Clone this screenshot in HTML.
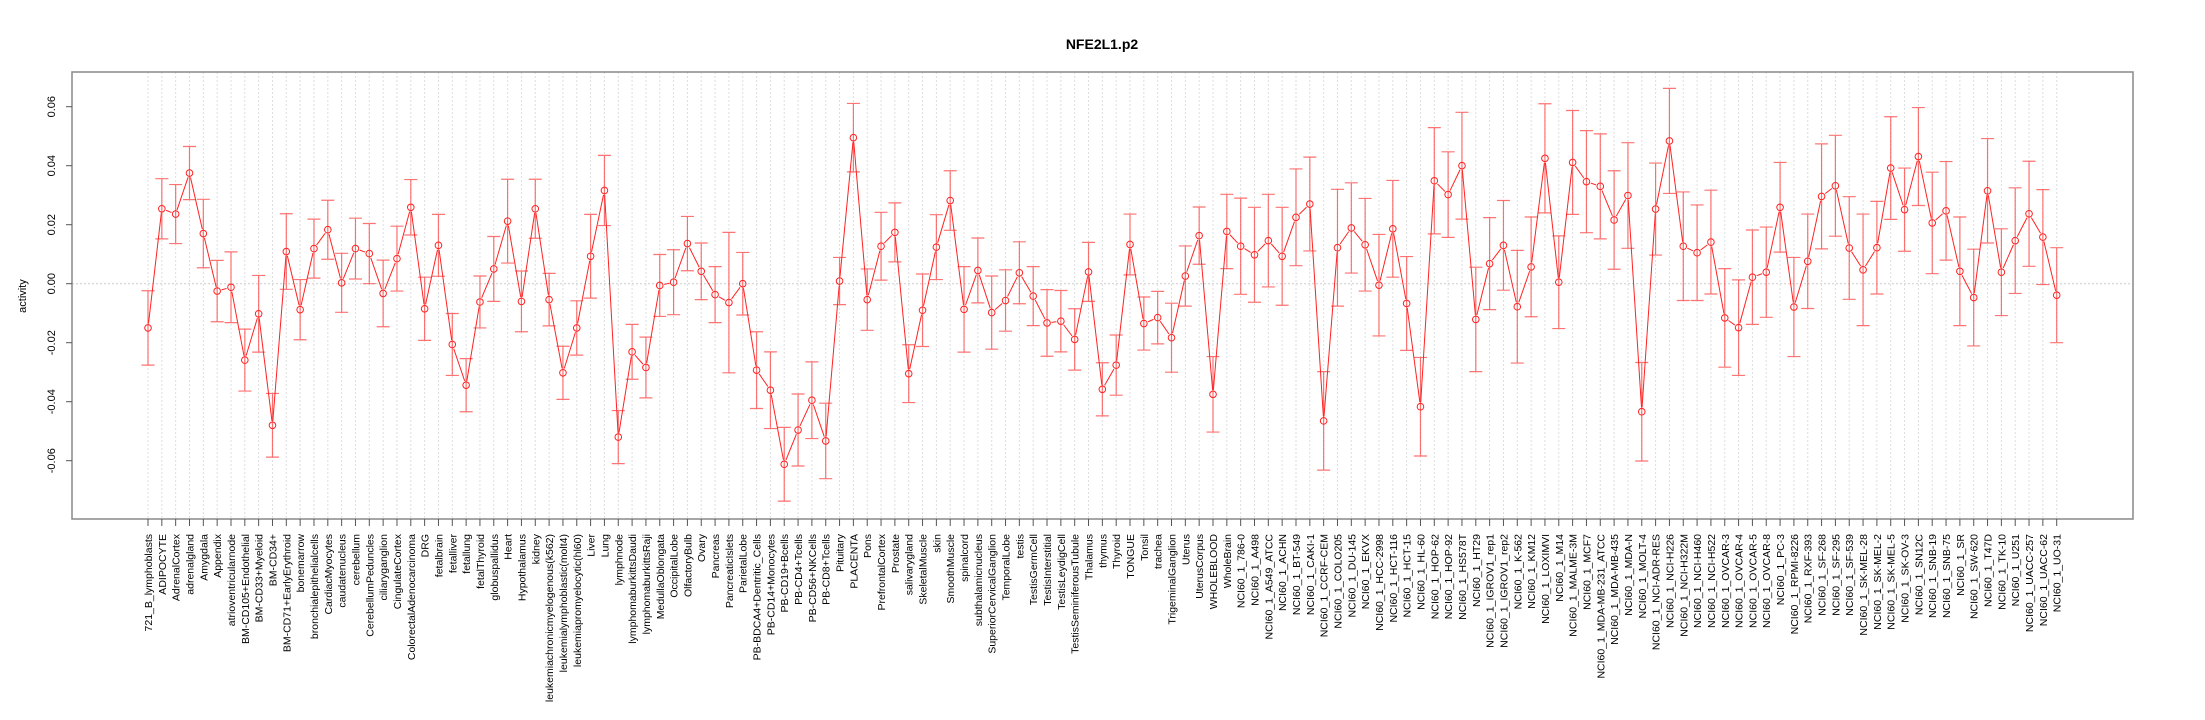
<!DOCTYPE html>
<html><head><meta charset="utf-8"><style>
html,body{margin:0;padding:0;background:#fff;}
svg{display:block;font-family:"Liberation Sans",sans-serif;}
</style></head><body>
<svg id="chart" width="2205" height="720" viewBox="0 0 2205 720" xmlns="http://www.w3.org/2000/svg">
<text x="1102" y="49" text-anchor="middle" font-size="14" font-weight="bold">NFE2L1.p2</text>
<text transform="translate(26,296) rotate(-90)" text-anchor="middle" font-size="11">activity</text>
<g id="grid"></g><g id="axes"></g><g id="bars"></g><g id="lines"></g><g id="pts"></g><g id="xlabels"></g>
</svg>
<script>
const categories = ["721_B_lymphoblasts","ADIPOCYTE","AdrenalCortex","adrenalgland","Amygdala","Appendix","atrioventricularnode","BM-CD105+Endothelial","BM-CD33+Myeloid","BM-CD34+","BM-CD71+EarlyErythroid","bonemarrow","bronchialepithelialcells","CardiacMyocytes","caudatenucleus","cerebellum","CerebellumPeduncles","ciliaryganglion","CingulateCortex","ColorectalAdenocarcinoma","DRG","fetalbrain","fetalliver","fetallung","fetalThyroid","globuspallidus","Heart","Hypothalamus","kidney","leukemiachronicmyelogenous(k562)","leukemialymphoblastic(molt4)","leukemiapromyelocytic(hl60)","Liver","Lung","lymphnode","lymphomaburkittsDaudi","lymphomaburkittsRaji","MedullaOblongata","OccipitalLobe","OlfactoryBulb","Ovary","Pancreas","PancreaticIslets","ParietalLobe","PB-BDCA4+Dentritic_Cells","PB-CD14+Monocytes","PB-CD19+Bcells","PB-CD4+Tcells","PB-CD56+NKCells","PB-CD8+Tcells","Pituitary","PLACENTA","Pons","PrefrontalCortex","Prostate","salivarygland","SkeletalMuscle","skin","SmoothMuscle","spinalcord","subthalamicnucleus","SuperiorCervicalGanglion","TemporalLobe","testis","TestisGermCell","TestisInterstitial","TestisLeydigCell","TestisSeminiferousTubule","Thalamus","thymus","Thyroid","TONGUE","Tonsil","trachea","TrigeminalGanglion","Uterus","UterusCorpus","WHOLEBLOOD","WholeBrain","NCI60_1_786-0","NCI60_1_A498","NCI60_1_A549_ATCC","NCI60_1_ACHN","NCI60_1_BT-549","NCI60_1_CAKI-1","NCI60_1_CCRF-CEM","NCI60_1_COLO205","NCI60_1_DU-145","NCI60_1_EKVX","NCI60_1_HCC-2998","NCI60_1_HCT-116","NCI60_1_HCT-15","NCI60_1_HL-60","NCI60_1_HOP-62","NCI60_1_HOP-92","NCI60_1_HS578T","NCI60_1_HT29","NCI60_1_IGROV1_rep1","NCI60_1_IGROV1_rep2","NCI60_1_K-562","NCI60_1_KM12","NCI60_1_LOXIMVI","NCI60_1_M14","NCI60_1_MALME-3M","NCI60_1_MCF7","NCI60_1_MDA-MB-231_ATCC","NCI60_1_MDA-MB-435","NCI60_1_MDA-N","NCI60_1_MOLT-4","NCI60_1_NCI-ADR-RES","NCI60_1_NCI-H226","NCI60_1_NCI-H322M","NCI60_1_NCI-H460","NCI60_1_NCI-H522","NCI60_1_OVCAR-3","NCI60_1_OVCAR-4","NCI60_1_OVCAR-5","NCI60_1_OVCAR-8","NCI60_1_PC-3","NCI60_1_RPMI-8226","NCI60_1_RXF-393","NCI60_1_SF-268","NCI60_1_SF-295","NCI60_1_SF-539","NCI60_1_SK-MEL-28","NCI60_1_SK-MEL-2","NCI60_1_SK-MEL-5","NCI60_1_SK-OV-3","NCI60_1_SN12C","NCI60_1_SNB-19","NCI60_1_SNB-75","NCI60_1_SR","NCI60_1_SW-620","NCI60_1_T47D","NCI60_1_TK-10","NCI60_1_U251","NCI60_1_UACC-257","NCI60_1_UACC-62","NCI60_1_UO-31"];
const values = [-0.015,0.0254,0.0236,0.0375,0.017,-0.0025,-0.0012,-0.0259,-0.0102,-0.048,0.0109,-0.0088,0.0119,0.0183,0.0003,0.0119,0.0102,-0.0033,0.0085,0.0259,-0.0085,0.013,-0.0206,-0.0344,-0.0062,0.005,0.0212,-0.006,0.0254,-0.0054,-0.0302,-0.015,0.0093,0.0316,-0.052,-0.0231,-0.0284,-0.0006,0.0005,0.0136,0.0042,-0.0037,-0.0064,0.0,-0.0293,-0.0361,-0.0612,-0.0496,-0.0395,-0.0533,0.0009,0.0495,-0.0054,0.0127,0.0174,-0.0305,-0.009,0.0124,0.0282,-0.0087,0.0045,-0.0098,-0.0057,0.0037,-0.0042,-0.0133,-0.0127,-0.0189,0.004,-0.0358,-0.0276,0.0133,-0.0135,-0.0115,-0.0183,0.0026,0.0163,-0.0375,0.0177,0.0127,0.0098,0.0146,0.0093,0.0225,0.027,-0.0465,0.0122,0.0189,0.0132,-0.0005,0.0186,-0.0067,-0.0417,0.0349,0.0302,0.04,-0.0121,0.0068,0.013,-0.0078,0.0057,0.0425,0.0005,0.0411,0.0346,0.033,0.0216,0.0299,-0.0434,0.0253,0.0484,0.0127,0.0105,0.0141,-0.0116,-0.0149,0.0022,0.0039,0.0259,-0.0079,0.0076,0.0296,0.0332,0.0121,0.0047,0.0122,0.0392,0.0251,0.0431,0.0206,0.0247,0.0042,-0.0047,0.0315,0.0039,0.0146,0.0237,0.0158,-0.0039];
const errors = [0.0126,0.0102,0.010,0.009,0.0116,0.0104,0.012,0.0105,0.013,0.0108,0.0128,0.0102,0.010,0.010,0.010,0.0103,0.0102,0.0113,0.011,0.0094,0.0107,0.0105,0.0105,0.009,0.0088,0.011,0.0142,0.0103,0.010,0.0089,0.009,0.0092,0.0142,0.0119,0.009,0.0093,0.0103,0.0105,0.011,0.0092,0.0096,0.0095,0.0238,0.0106,0.013,0.013,0.0125,0.0122,0.013,0.0128,0.008,0.0116,0.0104,0.0115,0.010,0.0098,0.0123,0.011,0.0101,0.0145,0.011,0.0124,0.0104,0.0105,0.010,0.0113,0.0104,0.0104,0.010,0.009,0.0102,0.0103,0.009,0.0089,0.0117,0.0102,0.0097,0.0128,0.0126,0.0163,0.0161,0.0157,0.0166,0.0164,0.0159,0.0167,0.0198,0.0153,0.0157,0.0172,0.0164,0.0159,0.0167,0.018,0.0145,0.0181,0.0177,0.0156,0.0152,0.0191,0.0169,0.0185,0.0157,0.0176,0.0173,0.0178,0.0167,0.0179,0.0167,0.0156,0.0178,0.0184,0.0162,0.0176,0.0167,0.0162,0.016,0.0153,0.0152,0.0168,0.016,0.0178,0.0171,0.0174,0.0189,0.0157,0.0174,0.0141,0.0166,0.0172,0.0167,0.0184,0.0164,0.0177,0.0147,0.0179,0.0178,0.0161,0.0161];
const yTicks = [-0.06,-0.04,-0.02,0.00,0.02,0.04,0.06];
const yTickLabels = ["-0.06","-0.04","-0.02","0.00","0.02","0.04","0.06"];

const NS="http://www.w3.org/2000/svg";
const L=72,R=2133,T=72,B=519;
const x0=148,x1=2056.7;
function xs(i){return x0+(x1-x0)*i/(categories.length-1);}
function ys(v){return 283.7-v*2950;}
function mk(tag,attrs,parent){const e=document.createElementNS(NS,tag);for(const k in attrs)e.setAttribute(k,attrs[k]);parent.appendChild(e);return e;}
const g=id=>document.getElementById(id);

let f=mk('rect',{x:L,y:T,width:R-L,height:B-T,fill:'none',stroke:'#888','stroke-width':1.5},g('axes'));


let z=mk('line',{x1:L,x2:R,y1:ys(0),y2:ys(0),stroke:'#ccc','stroke-dasharray':'2,2'},g('grid'));


yTicks.forEach((t,i)=>{
  const y=ys(t);
  let tk=mk('line',{x1:L-6,x2:L,y1:y,y2:y,stroke:'#555'},g('axes'));
  
  
  let tx=mk('text',{transform:`translate(${L-17},${y}) rotate(-90)`,'text-anchor':'middle','font-size':11},g('axes'));
  tx.textContent=yTickLabels[i];
  
  
});
const pts=values.map((v,i)=>[xs(i),ys(v)]);
categories.forEach((c,i)=>{
  const x=xs(i);
  let gl=mk('line',{x1:x,x2:x,y1:T,y2:B,stroke:'#ddd','stroke-dasharray':'2,2'},g('grid'));
  
  
  let tk=mk('line',{x1:x,x2:x,y1:B,y2:B+7,stroke:'#555'},g('axes'));
  
  
  let lb=mk('text',{transform:`translate(${x+4},${B+15}) rotate(-90)`,'text-anchor':'end','font-size':10.5},g('xlabels'));
  lb.textContent=c;
  
  
  const hi=ys(values[i]+errors[i]),lo=ys(values[i]-errors[i]);
  let eb=mk('path',{d:`M${x},${hi}V${lo}M${x-6.5},${hi}H${x+6.5}M${x-6.5},${lo}H${x+6.5}`,stroke:'#f44','stroke-opacity':0.75,fill:'none','stroke-width':1.2},g('bars'));
  
  
  let pt=mk('circle',{cx:x,cy:pts[i][1],r:3.3,fill:'none',stroke:'#f22','stroke-width':1},g('pts'));
  
  
});
for(let i=0;i<pts.length-1;i++){
  const [ax,ay]=pts[i],[bx,by]=pts[i+1];
  const dx=bx-ax,dy=by-ay,d=Math.hypot(dx,dy);
  if(d<9)continue;
  const ux=dx/d,uy=dy/d,r=4.5;
  let ln=mk('line',{x1:ax+ux*r,y1:ay+uy*r,x2:bx-ux*r,y2:by-uy*r,stroke:'#f22','stroke-width':1},g('lines'));
  
  
}
</script>
</body></html>
